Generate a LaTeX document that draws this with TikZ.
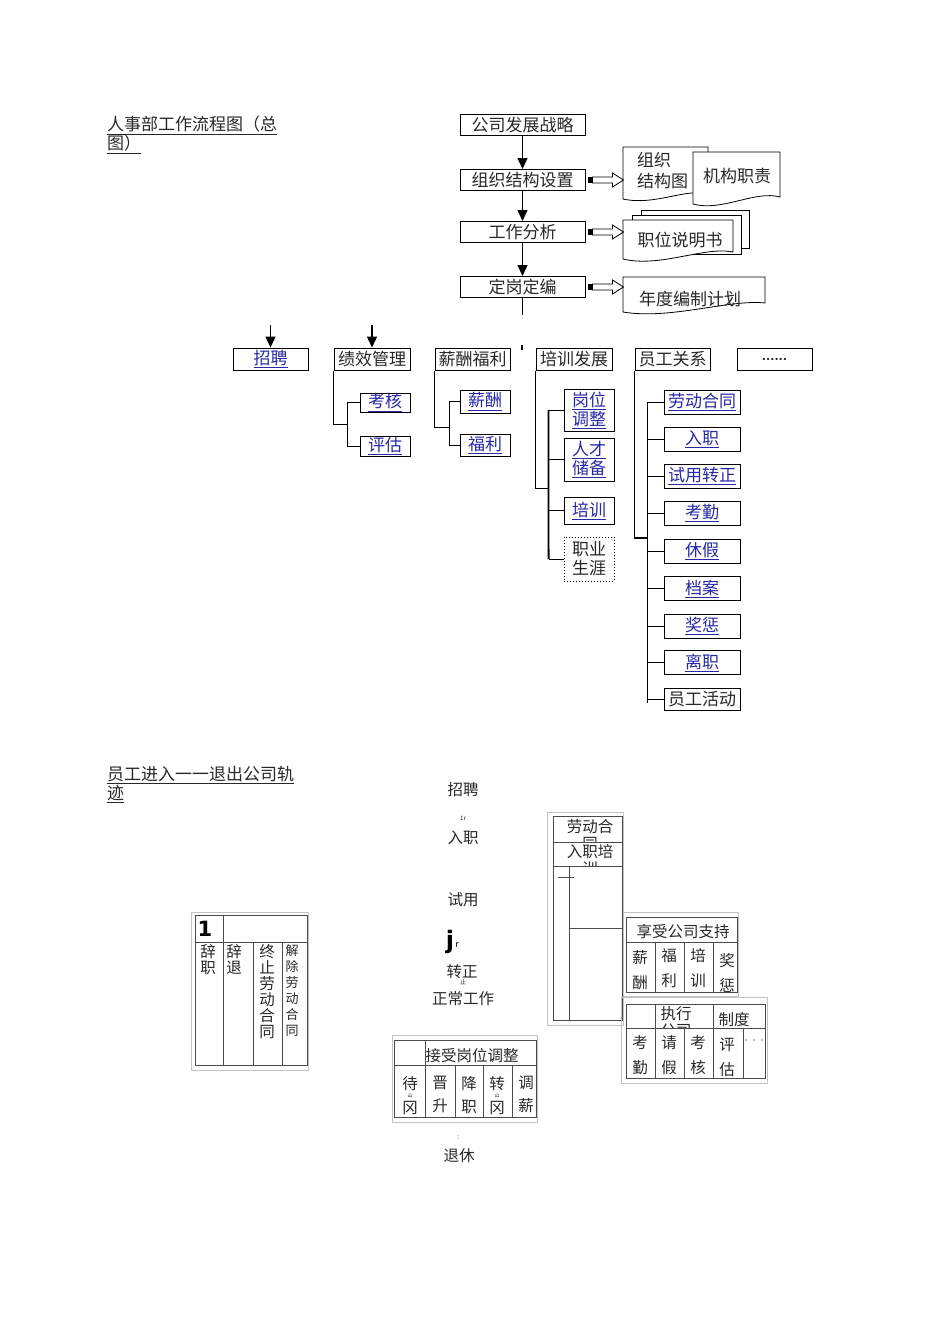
\documentclass[tikz,border=0pt]{standalone}
\usepackage{fontspec}
\setmainfont{Noto Sans CJK SC}
\newfontfamily\dvs{DejaVu Sans}
\usetikzlibrary{arrows.meta}
\definecolor{lk}{RGB}{40,40,165}
\definecolor{lgr}{RGB}{195,195,195}
\definecolor{tg}{RGB}{75,75,75}
\definecolor{tt}{RGB}{40,40,40}
\newcommand\lnk[1]{\textcolor{lk}{\underline{#1}}}
\newcommand\harr[1]{\begin{scope}[shift={(#1.east)}]
 \fill (2,-3) rectangle (7,3);
 \draw[harrow] (7,-3) -- (27,-3) -- (27,-7) -- (38,0) -- (27,7) -- (27,3) -- (7,3) -- cycle;
\end{scope}}
\tikzset{
  fbox/.style={draw, line width=1pt, inner sep=0pt, minimum height=21pt, font=\fontsize{17}{19}\selectfont, text=tt},
  sbox/.style={draw, line width=1pt, inner sep=0pt, minimum width=50pt, align=center, font=\fontsize{17}{19}\selectfont, text=tt},
  ebox/.style={draw, line width=1pt, inner sep=0pt, minimum width=76pt, minimum height=24pt, font=\fontsize{17}{19}\selectfont, text=tt},
  docshape/.style={draw, line width=0.8pt, fill=white},
  flowarrow/.style={line width=1.3pt, -{Triangle[length=11pt,width=10pt]}},
  treeline/.style={line width=0.9pt},
  treebold/.style={line width=1.8pt},
  harrow/.style={draw, line width=0.8pt, fill=white},
  txt/.style={inner sep=0pt, text=tt, font=\fontsize{15.5}{17}\selectfont},
  vtxt/.style={inner sep=0pt, anchor=north, align=center, text=tt, font=\fontsize{15.5}{16}\selectfont},
  vtxtw/.style={inner sep=0pt, anchor=north, align=center, text=tt, font=\fontsize{15.5}{25}\selectfont},
  tline/.style={line width=0.7pt, draw=tg},
  oline/.style={line width=0.6pt, draw=lgr},
}
\begin{document}
\begin{tikzpicture}[x=1pt,y=-1pt]
\useasboundingbox[fill=white] (0,0) rectangle (950,1344);

% ---------- titles ----------
\node[anchor=north west, align=left, inner sep=0pt, text=tt, font=\fontsize{17}{19}\selectfont] (title1) at (107,116) {\underline{人事部工作流程图（总}\\\underline{图）}};
\node[anchor=north west, align=left, inner sep=0pt, text=tt, font=\fontsize{17}{19}\selectfont] (title2) at (107,766) {\underline{员工进入一一退出公司轨}\\\underline{迹}};

% ---------- top flow ----------
\node[fbox, minimum width=125pt] (b1) at (522.5,125) {公司发展战略};
\node[fbox, minimum width=125pt] (b2) at (522.5,180) {组织结构设置};
\node[fbox, minimum width=125pt] (b3) at (522.5,232) {工作分析};
\node[fbox, minimum width=125pt] (b4) at (522.5,287) {定岗定编};
\draw[flowarrow] (b1) -- (b2);
\draw[flowarrow] (b2) -- (b3);
\draw[flowarrow] (b3) -- (b4);
\coordinate (b4e) at (522.5,315);
\draw[line width=1.3pt] (b4) -- (b4e);

% documents
\draw[docshape] (623,147) -- (708,147) -- (708,194) .. controls (685,188) and (655,206) .. (623,199) -- cycle;
\node[anchor=west, align=left, inner sep=0pt, text=tt, font=\fontsize{17}{21}\selectfont] (d1) at (637,171) {组织\\结构图};
\draw[docshape] (693,152) -- (780,152) -- (780,197) .. controls (755,190) and (722,212) .. (693,204) -- cycle;
\node[txt, font=\fontsize{17}{19}\selectfont] (d2) at (737,176) {机构职责};
\draw[docshape] (641,210) -- (749,210) -- (749,248) -- (641,248) -- cycle;
\draw[docshape] (632,215) -- (741,215) -- (741,254) -- (632,254) -- cycle;
\draw[docshape] (623,220) -- (733,220) -- (733,252) .. controls (705,246) and (660,268) .. (623,259) -- cycle;
\node[txt, font=\fontsize{17}{19}\selectfont] (d3) at (680,240) {职位说明书};
\draw[docshape] (623,277) -- (765,277) -- (765,303) .. controls (730,299) and (670,320) .. (623,312) -- cycle;
\node[txt, font=\fontsize{17}{19}\selectfont] (d4) at (690,299) {年度编制计划};
\harr{b2}
\harr{b3}
\harr{b4}

% ---------- middle row ----------
\node[fbox, minimum width=75pt, minimum height=22pt] (zp) at (270.5,359) {\lnk{招聘}};
\node[fbox, minimum width=76pt, minimum height=22pt] (jx) at (372,359) {绩效管理};
\node[fbox, minimum width=75pt, minimum height=22pt] (xc) at (472.5,359) {薪酬福利};
\node[fbox, minimum width=76pt, minimum height=22pt] (px) at (574,359) {培训发展};
\node[fbox, minimum width=75pt, minimum height=22pt] (yg) at (672.5,359) {员工关系};
\node[fbox, minimum width=75pt, minimum height=22pt] (more) at (774.5,359) {\dvs\bfseries\fontsize{11}{12}\selectfont ......};
\coordinate (zpa) at (270.5,325);
\coordinate (jxa) at (372,325);
\draw[flowarrow] (zpa) -- (zp);
\draw[flowarrow] (jxa) -- (jx);
\coordinate (tk) at (522,345);
\draw[line width=1.5pt] (tk) -- ++(0,5);

% 绩效管理 subtree
\node[sbox, minimum height=19pt] (kh) at (385,402.5) {\lnk{考核}};
\node[sbox, minimum height=20pt] (pg) at (385,446) {\lnk{评估}};
\draw[treeline] (jx.south west) |- (347,424);
\draw[treeline] (kh.west) -| (347,446) -- (pg.west);

% 薪酬福利 subtree
\node[sbox, minimum height=23pt] (xch) at (485,401.5) {\lnk{薪酬}};
\node[sbox, minimum height=22pt] (fl) at (485,445) {\lnk{福利}};
\draw[treeline] (xc.south west) |- (449,427);
\draw[treeline] (xch.west) -| (449,445) -- (fl.west);

% 培训发展 subtree
\node[sbox, minimum height=42pt] (gw) at (589,410) {\lnk{岗位}\\\lnk{调整}};
\node[sbox, minimum height=43pt] (rc) at (589,459.5) {\lnk{人才}\\\lnk{储备}};
\node[sbox, minimum height=27pt] (pxx) at (589,510.5) {\lnk{培训}};
\node[sbox, minimum height=44pt, dotted, line width=0.8pt] (zy) at (589,559) {职业\\生涯};
\draw[treeline] (px.south west) |- (549,488);
\draw[treebold] ([xshift=-15pt]gw.west) -- ([xshift=-15pt]zy.west);
\draw[treeline] (gw.west) -- ++(-15,0);
\draw[treeline] (rc.west) -- ++(-15,0);
\draw[treeline] (pxx.west) -- ++(-15,0);
\draw[treeline] (zy.west) -- ++(-15,0);

% 员工关系 subtree
\node[ebox] (e1) at (702,402) {\lnk{劳动合同}};
\node[ebox] (e2) at (702,439) {\lnk{入职}};
\node[ebox] (e3) at (702,476) {\lnk{试用转正}};
\node[ebox] (e4) at (702,513) {\lnk{考勤}};
\node[ebox] (e5) at (702,551) {\lnk{休假}};
\node[ebox] (e6) at (702,588.5) {\lnk{档案}};
\node[ebox] (e7) at (702,626) {\lnk{奖惩}};
\node[ebox] (e8) at (702,662.5) {\lnk{离职}};
\node[ebox, minimum height=22pt] (e9) at (702,699) {员工活动};
\draw[treebold] (yg.south west) |- (648,538);
\draw[treeline] ([xshift=-16pt]e1.west) -- ([xshift=-16pt]e9.west) -- ++(0,4);
\foreach \e in {e1,e2,e3,e4,e5,e6,e7,e8,e9}{\draw[treeline] (\e.west) -- ++(-16,0);}

% ---------- lower centre column ----------
\node[txt] (c1) at (463,790) {招聘};
\node[txt, font=\fontsize{6}{7}\selectfont] (c1a) at (463,818) {1r};
\node[txt] (c2) at (463,838) {入职};
\node[txt] (c3) at (463,900) {试用};
\node[inner sep=0pt, font=\dvs\bfseries\fontsize{24}{26}\selectfont] (c3a) at (450,942) {j};
\node[inner sep=0pt, font=\itshape\fontsize{9}{10}\selectfont] (c3b) at (457,945) {r};
\node[txt] (c4) at (462,972) {转正};
\node[txt, font=\fontsize{6}{7}\selectfont] (c4a) at (463,982) {止};
\node[txt] (c5) at (463,999) {正常工作};
\node[txt, font=\fontsize{7}{8}\selectfont] (c6a) at (458,1138) {:};
\node[txt] (c6) at (459,1156) {退休};

% ---------- left table ----------
\draw[oline] (191,912) rectangle (308,1070);
\draw[tline] (195,915) rectangle (307,1065);
\draw[tline] (195,942) -- (307,942);
\draw[tline] (223,915) -- (223,1065);
\draw[tline] (253,942) -- (253,1065);
\draw[tline] (282,942) -- (282,1065);
\node[inner sep=0pt, font=\dvs\bfseries\fontsize{21}{21}\selectfont] (one) at (205,929) {1};
\node[vtxt] (l1) at (208,944) {辞\\职};
\node[vtxt] (l2) at (234,944) {辞\\退};
\node[vtxt] (l3) at (267,944) {终\\止\\劳\\动\\合\\同};
\node[vtxt, font=\fontsize{13}{16}\selectfont] (l4) at (292,944) {解\\除\\劳\\动\\合\\同};

% ---------- centre table ----------
\draw[oline] (392,1035) rectangle (537,1122);
\draw[tline] (394,1040) rectangle (536,1117);
\draw[tline] (394,1065) -- (536,1065);
\draw[tline] (425,1040) -- (425,1117);
\draw[tline] (455,1065) -- (455,1117);
\draw[tline] (483,1065) -- (483,1117);
\draw[tline] (512,1065) -- (512,1117);
\node[txt] (ch) at (472,1056) {接受岗位调整};
\node[txt] (m1a) at (410,1084) {待};
\node[txt, font=\fontsize{5}{6}\selectfont] (m1b) at (410,1096) {山};
\node[txt] (m1c) at (410,1108) {冈};
\node[vtxt, font=\fontsize{15.5}{23}\selectfont] (m2) at (440,1076) {晋\\升};
\node[vtxt, font=\fontsize{15.5}{23}\selectfont] (m3) at (469,1076) {降\\职};
\node[txt] (m4a) at (497,1084) {转};
\node[txt, font=\fontsize{5}{6}\selectfont] (m4b) at (497,1096) {山};
\node[txt] (m4c) at (497,1108) {冈};
\node[vtxt, font=\fontsize{15.5}{23}\selectfont] (m5) at (526,1076) {调\\薪};

% ---------- right upper table ----------
\draw[oline] (547,812) rectangle (623,1025);
\draw[tline] (553,816) rectangle (622,1020);
\draw[tline] (553,842) -- (622,842);
\draw[tline] (553,866) -- (622,866);
\draw[tline] (569,866) -- (569,1020);
\draw[tline] (569,928) -- (622,928);
\draw[tline] (558,877) -- (574,877);
\node[txt] (r1) at (590,827) {劳动合};
\node[txt] (r2) at (590,852) {入职培};
\begin{scope}
\clip (553,816) rectangle (622,841.5);
\node[txt] (r1b) at (590,844) {同};
\end{scope}
\begin{scope}
\clip (553,842) rectangle (622,865.5);
\node[txt] (r2b) at (590,869) {训};
\end{scope}

% ---------- 享受公司支持 ----------
\draw[oline] (623,912) rectangle (738,996);
\draw[tline, fill=white] (626,917) rectangle (737,992);
\draw[tline] (626,942) -- (737,942);
\draw[tline] (655,942) -- (655,992);
\draw[tline] (684,942) -- (684,992);
\draw[tline] (713,942) -- (713,992);
\node[txt] (sh) at (683,932) {享受公司支持};
\node[vtxtw] (s1) at (640,950) {薪\\酬};
\node[vtxtw] (s2) at (669,948) {福\\利};
\node[vtxtw] (s3) at (698,948) {培\\训};
\node[vtxtw] (s4) at (727,953) {奖\\惩};

% ---------- 执行 制度 ----------
\draw[oline] (621,997) rectangle (767,1083);
\draw[tline, fill=white] (626,1004) rectangle (765,1078);
\draw[tline] (626,1028) -- (765,1028);
\draw[tline] (655,1004) -- (655,1078);
\draw[tline] (713,1004) -- (713,1078);
\draw[tline] (684,1028) -- (684,1078);
\draw[tline] (743,1028) -- (743,1078);
\node[txt] (x1) at (676,1014) {执行};
\begin{scope}
\clip (655,1004) rectangle (713,1027.5);
\node[txt] (x1b) at (676,1031) {公司};
\end{scope}
\node[txt] (x2) at (734,1020) {制度};
\node[vtxtw] (y1) at (640,1035) {考\\勤};
\node[vtxtw] (y2) at (669,1035) {请\\假};
\node[vtxtw] (y3) at (698,1035) {考\\核};
\node[vtxtw] (y4) at (727,1038) {评\\估};
\node[inner sep=0pt, text=gray, font=\fontsize{8}{9}\selectfont] (y5) at (754,1042) {···};
\end{tikzpicture}
\end{document}
